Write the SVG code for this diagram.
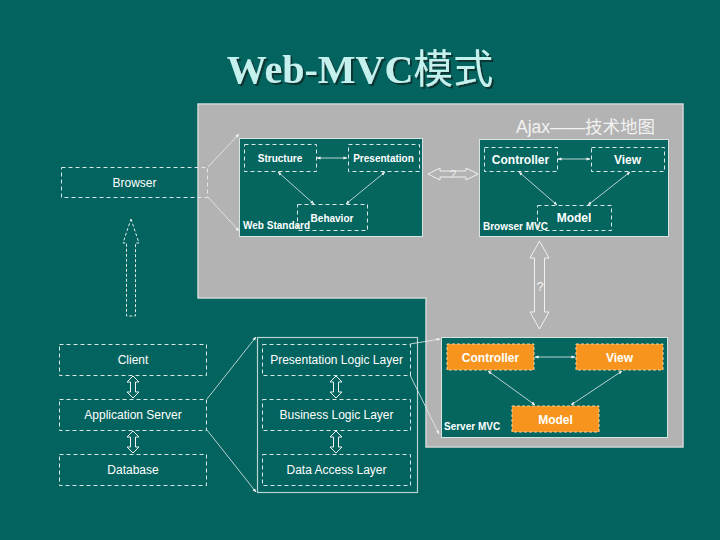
<svg xmlns="http://www.w3.org/2000/svg" width="720" height="540" viewBox="0 0 720 540">
<defs>
<style>
.sans{font-family:"Liberation Sans","Noto Sans CJK SC",sans-serif}
.lbl{font-family:"Liberation Sans",sans-serif;fill:#ffffff;text-anchor:middle}
.sm{font-size:10px;font-weight:bold}
.md{font-size:12px;font-weight:bold}
.nm{font-size:12px}
.dash{fill:none;stroke:#dde8e8;stroke-width:1;stroke-dasharray:4,3}
.panel{fill:#04665f;stroke:#d6e4e4;stroke-width:1}
.orange{fill:#f7941d;stroke:#fbd3a0;stroke-width:1;stroke-dasharray:3,2}
.conn{fill:none;stroke:#e8eeee;stroke-width:0.8}
.outl{fill:none;stroke:#eef2f2;stroke-width:1}
</style>
<filter id="shadow" x="-10%" y="-30%" width="120%" height="160%">
<feDropShadow dx="2" dy="2" stdDeviation="0.6" flood-color="#0a3432" flood-opacity="1"/>
</filter>
<marker id="ah" viewBox="0 0 10 10" refX="9" refY="5" markerWidth="5" markerHeight="5" orient="auto-start-reverse">
<path d="M0,1 L10,5 L0,9 z" fill="#eef2f2"/>
</marker>
<path id="dbl" d="M0,-11 L6,-5 L2.5,-5 L2.5,5 L6,5 L0,11 L-6,5 L-2.5,5 L-2.5,-5 L-6,-5 Z"/>
</defs>
<rect x="0" y="0" width="720" height="540" fill="#03635e"/>
<g id="title">
<text x="360" y="83" text-anchor="middle" font-family="'Liberation Serif','Noto Sans CJK SC',serif" font-size="40" font-weight="bold" fill="#c4f0ee" filter="url(#shadow)">Web-MVC<tspan font-family="'Noto Sans CJK SC',sans-serif" font-weight="normal">模式</tspan></text>
</g>
<g id="gray-area">
<polygon points="198,104 683,104 683,447 426,447 426,298 198,298" fill="#b3b3b3" stroke="#d2d6d6" stroke-width="1.5"/>
<text x="516" y="133" class="sans" font-size="17.5" fill="#f2f2f2">Ajax——技术地图</text>
</g>
<g id="web-standard">
<rect x="239.5" y="138.5" width="183" height="98" class="panel"/>
<text x="243" y="229" class="lbl sm" style="text-anchor:start">Web Standard</text>
</g>
<g id="structure">
<rect x="244.5" y="144.5" width="72" height="27" class="dash"/>
<text x="280" y="161.5" class="lbl sm">Structure</text>
</g>
<g id="presentation">
<rect x="348.5" y="144.5" width="71" height="27" class="dash"/>
<text x="383.5" y="161.5" class="lbl sm">Presentation</text>
</g>
<g id="behavior">
<rect x="297.5" y="204.5" width="70" height="26" class="dash"/>
<text x="332" y="221.5" class="lbl sm">Behavior</text>
</g>
<g id="browser-mvc">
<rect x="479.5" y="139.5" width="189" height="97" class="panel"/>
<text x="483" y="230" class="lbl sm" style="text-anchor:start">Browser MVC</text>
</g>
<g id="b-controller">
<rect x="484.5" y="147.5" width="73" height="24" class="dash"/>
<text x="520.5" y="163.5" class="lbl md">Controller</text>
</g>
<g id="b-view">
<rect x="591.5" y="147.5" width="73" height="24" class="dash"/>
<text x="627.5" y="163.5" class="lbl md">View</text>
</g>
<g id="b-model">
<rect x="537.5" y="205.5" width="74" height="25" class="dash"/>
<text x="574" y="222" class="lbl md">Model</text>
</g>
<g id="server-mvc">
<rect x="441.5" y="337.5" width="226" height="100" class="panel"/>
<text x="444" y="430" class="lbl sm" style="text-anchor:start">Server MVC</text>
</g>
<g id="s-controller">
<rect x="447" y="344" width="87" height="26" class="orange"/>
<text x="490.5" y="361.5" class="lbl md">Controller</text>
</g>
<g id="s-view">
<rect x="576" y="344" width="87" height="26" class="orange"/>
<text x="619.5" y="361.5" class="lbl md">View</text>
</g>
<g id="s-model">
<rect x="512" y="406" width="87" height="26" class="orange"/>
<text x="555.5" y="423.5" class="lbl md">Model</text>
</g>
<g id="browser">
<rect x="61.5" y="167.5" width="146" height="30" class="dash"/>
<text x="134.5" y="187" class="lbl nm">Browser</text>
</g>
<g id="client">
<rect x="59.5" y="344.5" width="147" height="31" class="dash"/>
<text x="133" y="364" class="lbl nm">Client</text>
</g>
<g id="app-server">
<rect x="59.5" y="399.5" width="147" height="31" class="dash"/>
<text x="133" y="419" class="lbl nm">Application Server</text>
</g>
<g id="database">
<rect x="59.5" y="454.5" width="147" height="31" class="dash"/>
<text x="133" y="474" class="lbl nm">Database</text>
</g>
<g id="layers">
<rect x="257.5" y="337.5" width="160" height="155" fill="none" stroke="#b8d4d2" stroke-width="1.2"/>
</g>
<g id="pres-layer">
<rect x="262.5" y="344.5" width="148" height="31" class="dash"/>
<text x="336.5" y="364" class="lbl nm">Presentation Logic Layer</text>
</g>
<g id="biz-layer">
<rect x="262.5" y="399.5" width="148" height="31" class="dash"/>
<text x="336.5" y="419" class="lbl nm">Business Logic Layer</text>
</g>
<g id="data-layer">
<rect x="262.5" y="454.5" width="148" height="31" class="dash"/>
<text x="336.5" y="474" class="lbl nm">Data Access Layer</text>
</g>
<g id="connectors">
<line x1="317" y1="158" x2="347" y2="158" class="conn" marker-start="url(#ah)" marker-end="url(#ah)"/>
<line x1="278" y1="172" x2="314" y2="204" class="conn" marker-start="url(#ah)" marker-end="url(#ah)"/>
<line x1="385" y1="172" x2="346" y2="204" class="conn" marker-start="url(#ah)" marker-end="url(#ah)"/>
<line x1="558" y1="159" x2="590" y2="159" class="conn" marker-start="url(#ah)" marker-end="url(#ah)"/>
<line x1="519" y1="172" x2="557" y2="205" class="conn" marker-start="url(#ah)" marker-end="url(#ah)"/>
<line x1="630" y1="172" x2="588" y2="205" class="conn" marker-start="url(#ah)" marker-end="url(#ah)"/>
<line x1="535" y1="357" x2="575" y2="357" class="conn" marker-start="url(#ah)" marker-end="url(#ah)"/>
<line x1="488" y1="371" x2="535" y2="405" class="conn" marker-start="url(#ah)" marker-end="url(#ah)"/>
<line x1="622" y1="371" x2="571" y2="405" class="conn" marker-start="url(#ah)" marker-end="url(#ah)"/>
<line x1="208" y1="167" x2="239" y2="134" class="conn" marker-end="url(#ah)"/>
<line x1="208" y1="197" x2="239" y2="231" class="conn" marker-end="url(#ah)"/>
<line x1="207" y1="399" x2="256" y2="337" class="conn" marker-end="url(#ah)"/>
<line x1="207" y1="430" x2="256" y2="492" class="conn" marker-end="url(#ah)"/>
<line x1="410" y1="344" x2="440" y2="339" class="conn" marker-end="url(#ah)"/>
<line x1="410" y1="375" x2="439" y2="434" class="conn" marker-end="url(#ah)"/>
<polygon points="428,174 440,168 440,171 466,171 466,168 478,174 466,180 466,177 440,177 440,180" class="outl"/>
<text x="453" y="178" class="sans" font-size="11" fill="#eef2f2" text-anchor="middle">?</text>
<polygon points="539.5,241 549,258 544.5,258 544.5,312 549,312 539.5,329 530,312 534.5,312 534.5,258 530,258" class="outl"/>
<text x="540" y="291" class="sans" font-size="13" fill="#f4f4f4" text-anchor="middle">?</text>
<polygon points="131,219 139,243 135.5,243 135.5,316 126.5,316 126.5,243 123,243" fill="none" stroke="#dde8e8" stroke-width="1" stroke-dasharray="3,2"/>
<use href="#dbl" x="133" y="387" class="outl"/>
<use href="#dbl" x="133" y="442" class="outl"/>
<use href="#dbl" x="336" y="387" class="outl"/>
<use href="#dbl" x="336" y="442" class="outl"/>
</g>
</svg>
